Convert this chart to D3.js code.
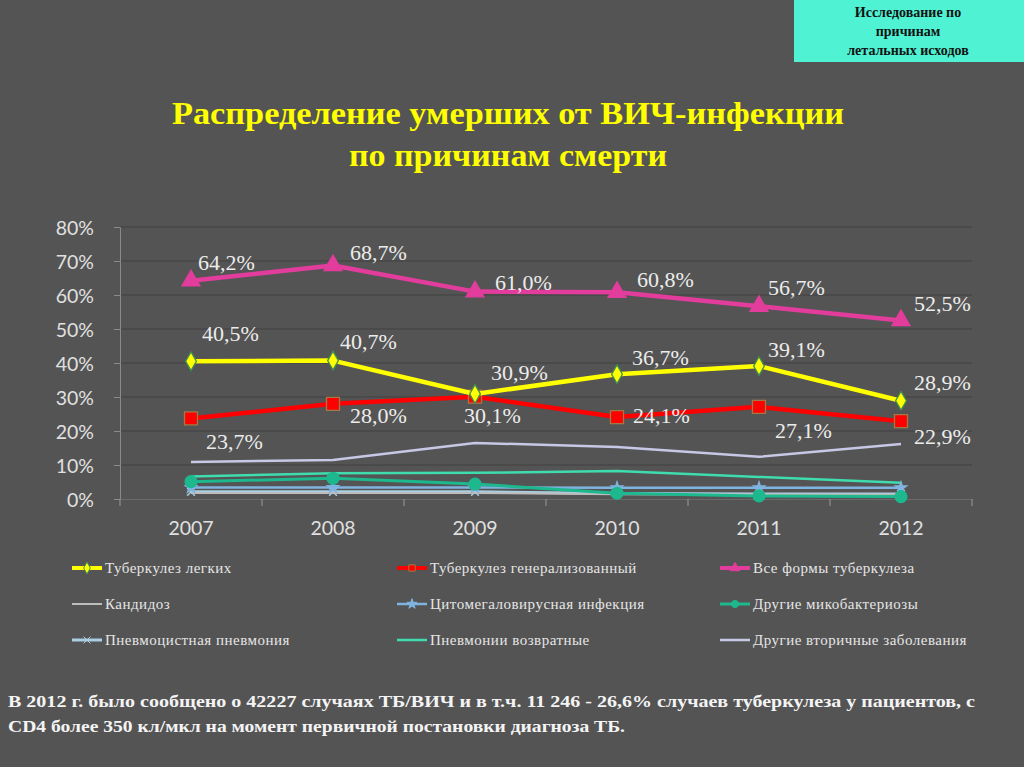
<!DOCTYPE html>
<html><head><meta charset="utf-8">
<script src="https://cdn.jsdelivr.net/npm/d3@7"></script>
<style>
html,body{margin:0;padding:0;background:#545454;}
svg{display:block;}
</style></head>
<body>
<svg id="c" width="1024" height="767"></svg>
<script>
// ---- data ----
const years = ["2007","2008","2009","2010","2011","2012"];
const yTicks = [0,10,20,30,40,50,60,70,80];
const seriesNames = [
  "Туберкулез легких",
  "Туберкулез генерализованный",
  "Все формы туберкулеза",
  "Кандидоз",
  "Цитомегаловирусная инфекция",
  "Другие микобактериозы",
  "Пневмоцистная пневмония",
  "Пневмонии возвратные",
  "Другие вторичные заболевания"
];
const tbLungs      = [40.5, 40.7, 30.9, 36.7, 39.1, 28.9];
const tbGeneral    = [23.7, 28.0, 30.1, 24.1, 27.1, 22.9];
const tbAll        = [64.2, 68.7, 61.0, 60.8, 56.7, 52.5];
const candidiasis  = [1.8, 1.8, 1.8, 1.4, 1.3, 1.3];
const cmv          = [3.4, 3.4, 3.4, 3.3, 3.3, 3.3];
const mycobact     = [5.1, 6.1, 4.4, 1.7, 0.9, 0.7];
const pneumocyst   = [2.1, 2.1, 2.1, 1.6, 1.5, 1.5];
const pneumoniaRec = [6.6, 7.6, 7.7, 8.2, 6.5, 4.8];
const otherSecond  = [10.9, 11.5, 16.5, 15.3, 12.4, 16.2];
const seriesValues = [tbLungs, tbGeneral, tbAll, candidiasis, cmv, mycobact, pneumocyst, pneumoniaRec, otherSecond];
const labelledSeries = [0, 1, 2];

// ---- styles ----
const SERIF = "'Liberation Serif', 'Times New Roman', 'DejaVu Serif', serif";
const SANS = "Lato, 'Open Sans', sans-serif";
const styles = [
  {color:"#ffff00", width:4.5, marker:"diamond", size:100, mstroke:"#3f8f50"},
  {color:"#ff0000", width:4.5, marker:"square", size:170, mstroke:"#a07a45"},
  {color:"#e23d9c", width:4.5, marker:"triangle", size:140, mstroke:"#e23d9c"},
  {color:"#bdbdbd", width:2, marker:null},
  {color:"#80b4e0", width:2.5, marker:"star", size:40, mstroke:"#80b4e0"},
  {color:"#1db88e", width:3, marker:"circle", size:110, mstroke:"#1db88e"},
  {color:"#a9cfe3", width:3, marker:"cross", size:40, mstroke:"#a9cfe3"},
  {color:"#3fdcae", width:2.5, marker:null},
  {color:"#c7c7e6", width:2.5, marker:null}
];
// label offsets (dx, dy) relative to the data point
const labelOffsets = [
  [[11,-20],[7,-12],[16,-14],[15,-9],[9,-9],[13,-11]],
  [[15,31],[17,19],[-11,26],[16,6],[16,31],[13,23]],
  [[7,-11],[17,-5],[20,-2],[20,-5],[9,-11],[13,-10]]
];

const svg = d3.select("#c");
svg.append("rect").attr("width",1024).attr("height",767).attr("fill","#545454");

// top-right box
svg.append("rect").attr("x",794).attr("y",0).attr("width",230).attr("height",62).attr("fill","#4ff2d2");
const boxLines = ["Исследование  по","причинам","летальных исходов"];
svg.selectAll("text.box").data(boxLines).join("text")
  .attr("x",908).attr("y",(d,i)=>17+i*19)
  .attr("text-anchor","middle")
  .style("font-family",SERIF).attr("font-weight","bold")
  .attr("font-size",14).attr("fill","#111")
  .text(d=>d);

// title
const titleLines = [
  {t:"Распределение умерших от ВИЧ-инфекции", y:124, w:672},
  {t:"по причинам смерти", y:166, w:318}
];
svg.selectAll("text.title").data(titleLines).join("text")
  .attr("x",508).attr("y",d=>d.y).attr("text-anchor","middle")
  .style("font-family",SERIF).attr("font-weight","bold")
  .attr("font-size",32).attr("fill","#ffff00")
  .attr("textLength",d=>d.w).attr("lengthAdjust","spacingAndGlyphs")
  .text(d=>d.t);

// scales
const x = d3.scaleBand().domain(years).range([120,972]);
const cx = d => x(d) + x.bandwidth()/2;
const y = d3.scaleLinear().domain([0,80]).range([499,227]);

// gridlines
svg.append("g").selectAll("line").data(yTicks.filter(d=>d>0)).join("line")
  .attr("x1",120).attr("x2",972).attr("y1",d=>y(d)).attr("y2",d=>y(d))
  .attr("stroke","#474747").attr("stroke-width",1.5);

// y axis
const yAxis = d3.axisLeft(y).tickValues(yTicks).tickFormat(d=>d+"%").tickSize(6).tickPadding(20);
const gy = svg.append("g").attr("transform","translate(120,0)").call(yAxis);
gy.select(".domain").attr("stroke","#8a8a8a");
gy.selectAll(".tick line").attr("stroke","#8a8a8a");
gy.selectAll(".tick text").attr("fill","#e0e0e0").style("font-family",SANS)
  .attr("font-size",19.5).attr("dy","0.36em");

// x axis
const xAxis = d3.axisBottom(x).tickSize(0).tickPadding(22);
const gx = svg.append("g").attr("transform","translate(0,499)").call(xAxis);
gx.select(".domain").attr("stroke","#6a6a6a");
gx.selectAll(".tick text").attr("fill","#e0e0e0").style("font-family",SANS).attr("font-size",19.5);
// category separator ticks
const bounds = years.map(d=>x(d)).concat([x(years[years.length-1])+x.bandwidth()]);
svg.append("g").selectAll("line").data(bounds).join("line")
  .attr("x1",d=>d).attr("x2",d=>d).attr("y1",499).attr("y2",506)
  .attr("stroke","#9a9a9a").attr("stroke-width",1);

// symbols
function sym(type){
  switch(type){
    case "diamond": return d3.symbolDiamond;
    case "square": return d3.symbolSquare;
    case "triangle": return d3.symbolTriangle;
    case "circle": return d3.symbolCircle;
    case "star": return d3.symbolStar;
    case "cross": return d3.symbolTimes;
  }
}

const line = d3.line().x((d,i)=>cx(years[i])).y(d=>y(d));
// draw order: minor first, then major
const order = [8,7,6,3,4,5,1,0,2];
order.forEach(si=>{
  const st = styles[si], vals = seriesValues[si];
  const g = svg.append("g");
  g.append("path").datum(vals).attr("d",line).attr("fill","none")
    .attr("stroke",st.color).attr("stroke-width",st.width).attr("stroke-linejoin","round");
  if(st.marker){
    g.selectAll("path.m").data(vals).join("path")
      .attr("transform",(d,i)=>`translate(${cx(years[i])},${y(d)})`)
      .attr("d",d3.symbol(sym(st.marker),st.size)())
      .attr("fill",st.marker==="cross"?"none":st.color)
      .attr("stroke",st.mstroke).attr("stroke-width",st.marker==="cross"?1.5:1.3);
  }
});

// value labels
labelledSeries.forEach((si,k)=>{
  const vals = seriesValues[si];
  svg.append("g").selectAll("text").data(vals).join("text")
    .attr("x",(d,i)=>cx(years[i])+labelOffsets[k][i][0])
    .attr("y",(d,i)=>y(d)+labelOffsets[k][i][1])
    .style("font-family",SERIF).attr("font-size",22)
    .attr("fill","#ececec")
    .text(d=>d.toFixed(1).replace(".",",")+"%");
});

// legend
const legX = [72, 397, 720], legY = [568, 604, 640];
const lg = svg.append("g");
seriesNames.forEach((name,i)=>{
  const col = i%3, row = Math.floor(i/3);
  const st = styles[i];
  const gx0 = legX[col], gy0 = legY[row];
  const g = lg.append("g").attr("transform",`translate(${gx0},${gy0})`);
  g.append("line").attr("x1",0).attr("x2",30).attr("y1",0).attr("y2",0)
    .attr("stroke",st.color).attr("stroke-width",Math.min(st.width,4));
  if(st.marker){
    g.append("path").attr("transform","translate(15,0)")
      .attr("d",d3.symbol(sym(st.marker),Math.min(st.size,50)*0.8)())
      .attr("fill",st.marker==="cross"?"none":st.color).attr("stroke",st.mstroke).attr("stroke-width",1);
  }
  g.append("text").attr("x",33).attr("y",5)
    .style("font-family",SERIF).attr("font-size",15)
    .attr("fill","#e6e6e6").attr("letter-spacing",0.5)
    .text(name);
});

// footnote
const foot = [
  {t:"В 2012 г. было сообщено о 42227 случаях ТБ/ВИЧ и в т.ч. 11 246 - 26,6% случаев туберкулеза у пациентов, с", y:707, w:967},
  {t:"CD4 более 350 кл/мкл на момент первичной постановки диагноза ТБ.", y:732, w:617}
];
svg.selectAll("text.foot").data(foot).join("text")
  .attr("x",8).attr("y",d=>d.y)
  .style("font-family",SERIF).attr("font-weight","bold")
  .attr("font-size",17).attr("fill","#f4f4f4")
  .attr("textLength",d=>d.w).attr("lengthAdjust","spacingAndGlyphs")
  .text(d=>d.t);
</script>
</body></html>
